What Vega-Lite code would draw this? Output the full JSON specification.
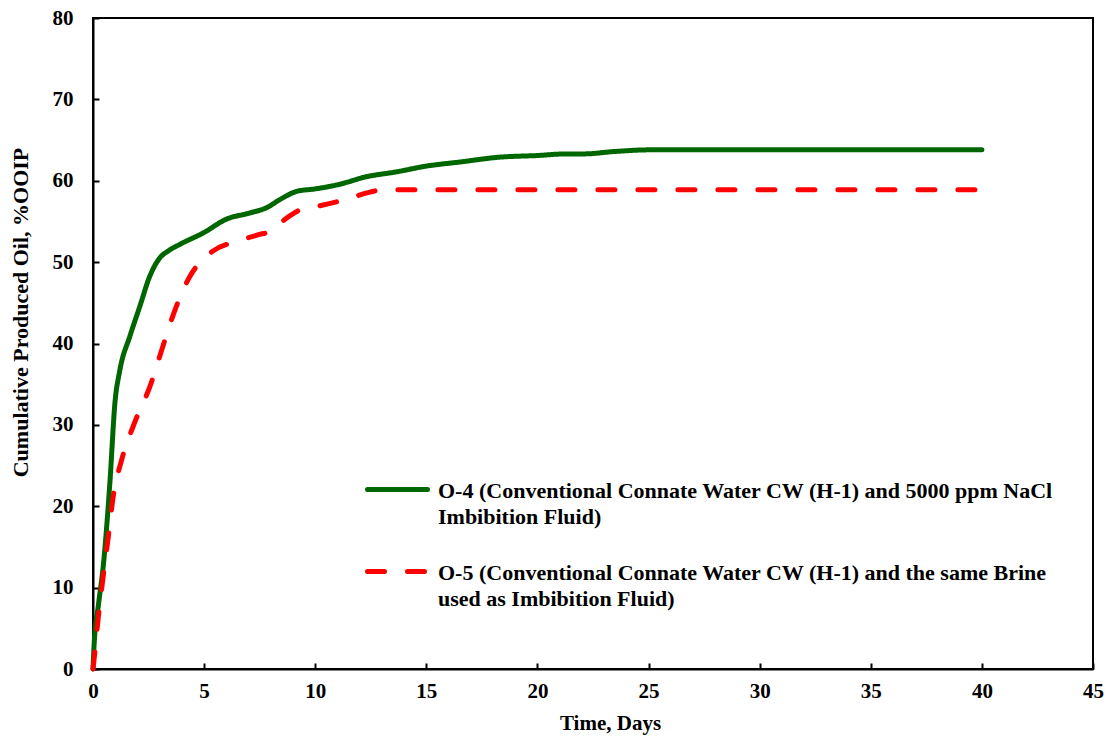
{
  "$schema": "https://vega.github.io/schema/vega-lite/v6.json",
  "width": 1000,
  "height": 651,
  "autosize": {"type": "none"},
  "padding": {"left": 93, "top": 18, "right": 14, "bottom": 67},
  "background": "white",
  "config": {
    "view": {"stroke": "black", "strokeWidth": 2},
    "font": "Liberation Serif",
    "axis": {
      "labelFont": "Liberation Serif",
      "labelFontWeight": "bold",
      "labelFontSize": 21,
      "labelColor": "black",
      "titleFont": "Liberation Serif",
      "titleFontWeight": "bold",
      "titleFontSize": 21,
      "titleColor": "black",
      "domainColor": "black",
      "domainWidth": 2,
      "tickColor": "black",
      "tickWidth": 2,
      "tickSize": -6,
      "grid": false
    }
  },
  "data": {
    "values": [
      {"series": "O-4 (Conventional Connate Water  CW (H-1) and 5000 ppm NaCl|Imbibition Fluid)", "day": 0, "value": 0},
      {"series": "O-4 (Conventional Connate Water  CW (H-1) and 5000 ppm NaCl|Imbibition Fluid)", "day": 0.05, "value": 3},
      {"series": "O-4 (Conventional Connate Water  CW (H-1) and 5000 ppm NaCl|Imbibition Fluid)", "day": 0.25, "value": 8},
      {"series": "O-4 (Conventional Connate Water  CW (H-1) and 5000 ppm NaCl|Imbibition Fluid)", "day": 0.46, "value": 12.6},
      {"series": "O-4 (Conventional Connate Water  CW (H-1) and 5000 ppm NaCl|Imbibition Fluid)", "day": 0.76, "value": 22.9},
      {"series": "O-4 (Conventional Connate Water  CW (H-1) and 5000 ppm NaCl|Imbibition Fluid)", "day": 0.99, "value": 32.8},
      {"series": "O-4 (Conventional Connate Water  CW (H-1) and 5000 ppm NaCl|Imbibition Fluid)", "day": 1.2, "value": 36.6},
      {"series": "O-4 (Conventional Connate Water  CW (H-1) and 5000 ppm NaCl|Imbibition Fluid)", "day": 1.66, "value": 40.9},
      {"series": "O-4 (Conventional Connate Water  CW (H-1) and 5000 ppm NaCl|Imbibition Fluid)", "day": 2.1, "value": 44.5},
      {"series": "O-4 (Conventional Connate Water  CW (H-1) and 5000 ppm NaCl|Imbibition Fluid)", "day": 2.56, "value": 48.3},
      {"series": "O-4 (Conventional Connate Water  CW (H-1) and 5000 ppm NaCl|Imbibition Fluid)", "day": 3.0, "value": 50.5},
      {"series": "O-4 (Conventional Connate Water  CW (H-1) and 5000 ppm NaCl|Imbibition Fluid)", "day": 3.4, "value": 51.4},
      {"series": "O-4 (Conventional Connate Water  CW (H-1) and 5000 ppm NaCl|Imbibition Fluid)", "day": 3.92, "value": 52.2},
      {"series": "O-4 (Conventional Connate Water  CW (H-1) and 5000 ppm NaCl|Imbibition Fluid)", "day": 4.97, "value": 53.6},
      {"series": "O-4 (Conventional Connate Water  CW (H-1) and 5000 ppm NaCl|Imbibition Fluid)", "day": 6.02, "value": 55.3},
      {"series": "O-4 (Conventional Connate Water  CW (H-1) and 5000 ppm NaCl|Imbibition Fluid)", "day": 7.0, "value": 56.0},
      {"series": "O-4 (Conventional Connate Water  CW (H-1) and 5000 ppm NaCl|Imbibition Fluid)", "day": 7.82, "value": 56.7},
      {"series": "O-4 (Conventional Connate Water  CW (H-1) and 5000 ppm NaCl|Imbibition Fluid)", "day": 8.42, "value": 57.7},
      {"series": "O-4 (Conventional Connate Water  CW (H-1) and 5000 ppm NaCl|Imbibition Fluid)", "day": 9.17, "value": 58.7},
      {"series": "O-4 (Conventional Connate Water  CW (H-1) and 5000 ppm NaCl|Imbibition Fluid)", "day": 10.0, "value": 59.0},
      {"series": "O-4 (Conventional Connate Water  CW (H-1) and 5000 ppm NaCl|Imbibition Fluid)", "day": 11.0, "value": 59.5},
      {"series": "O-4 (Conventional Connate Water  CW (H-1) and 5000 ppm NaCl|Imbibition Fluid)", "day": 12.32, "value": 60.5},
      {"series": "O-4 (Conventional Connate Water  CW (H-1) and 5000 ppm NaCl|Imbibition Fluid)", "day": 13.67, "value": 61.1},
      {"series": "O-4 (Conventional Connate Water  CW (H-1) and 5000 ppm NaCl|Imbibition Fluid)", "day": 15.0, "value": 61.8},
      {"series": "O-4 (Conventional Connate Water  CW (H-1) and 5000 ppm NaCl|Imbibition Fluid)", "day": 16.5, "value": 62.3},
      {"series": "O-4 (Conventional Connate Water  CW (H-1) and 5000 ppm NaCl|Imbibition Fluid)", "day": 18.3, "value": 62.9},
      {"series": "O-4 (Conventional Connate Water  CW (H-1) and 5000 ppm NaCl|Imbibition Fluid)", "day": 20.0, "value": 63.1},
      {"series": "O-4 (Conventional Connate Water  CW (H-1) and 5000 ppm NaCl|Imbibition Fluid)", "day": 21.3, "value": 63.3},
      {"series": "O-4 (Conventional Connate Water  CW (H-1) and 5000 ppm NaCl|Imbibition Fluid)", "day": 22.1, "value": 63.3},
      {"series": "O-4 (Conventional Connate Water  CW (H-1) and 5000 ppm NaCl|Imbibition Fluid)", "day": 23.5, "value": 63.6},
      {"series": "O-4 (Conventional Connate Water  CW (H-1) and 5000 ppm NaCl|Imbibition Fluid)", "day": 25.1, "value": 63.8},
      {"series": "O-4 (Conventional Connate Water  CW (H-1) and 5000 ppm NaCl|Imbibition Fluid)", "day": 30, "value": 63.8},
      {"series": "O-4 (Conventional Connate Water  CW (H-1) and 5000 ppm NaCl|Imbibition Fluid)", "day": 40, "value": 63.8},
      {"series": "O-5 (Conventional Connate Water CW (H-1) and the same Brine|used as Imbibition Fluid)", "day": 0, "value": 0},
      {"series": "O-5 (Conventional Connate Water CW (H-1) and the same Brine|used as Imbibition Fluid)", "day": 0.03, "value": 0.7},
      {"series": "O-5 (Conventional Connate Water CW (H-1) and the same Brine|used as Imbibition Fluid)", "day": 0.24, "value": 6.4},
      {"series": "O-5 (Conventional Connate Water CW (H-1) and the same Brine|used as Imbibition Fluid)", "day": 0.46, "value": 11.4},
      {"series": "O-5 (Conventional Connate Water CW (H-1) and the same Brine|used as Imbibition Fluid)", "day": 0.69, "value": 16.3},
      {"series": "O-5 (Conventional Connate Water CW (H-1) and the same Brine|used as Imbibition Fluid)", "day": 0.91, "value": 21.2},
      {"series": "O-5 (Conventional Connate Water CW (H-1) and the same Brine|used as Imbibition Fluid)", "day": 1.29, "value": 25.7},
      {"series": "O-5 (Conventional Connate Water CW (H-1) and the same Brine|used as Imbibition Fluid)", "day": 1.89, "value": 30.4},
      {"series": "O-5 (Conventional Connate Water CW (H-1) and the same Brine|used as Imbibition Fluid)", "day": 2.56, "value": 34.7},
      {"series": "O-5 (Conventional Connate Water CW (H-1) and the same Brine|used as Imbibition Fluid)", "day": 3.15, "value": 39.7},
      {"series": "O-5 (Conventional Connate Water CW (H-1) and the same Brine|used as Imbibition Fluid)", "day": 3.7, "value": 44.2},
      {"series": "O-5 (Conventional Connate Water CW (H-1) and the same Brine|used as Imbibition Fluid)", "day": 4.37, "value": 48.3},
      {"series": "O-5 (Conventional Connate Water CW (H-1) and the same Brine|used as Imbibition Fluid)", "day": 5.0, "value": 50.5},
      {"series": "O-5 (Conventional Connate Water CW (H-1) and the same Brine|used as Imbibition Fluid)", "day": 5.42, "value": 51.4},
      {"series": "O-5 (Conventional Connate Water CW (H-1) and the same Brine|used as Imbibition Fluid)", "day": 6.5, "value": 52.6},
      {"series": "O-5 (Conventional Connate Water CW (H-1) and the same Brine|used as Imbibition Fluid)", "day": 7.5, "value": 53.4},
      {"series": "O-5 (Conventional Connate Water CW (H-1) and the same Brine|used as Imbibition Fluid)", "day": 8.0, "value": 53.8},
      {"series": "O-5 (Conventional Connate Water CW (H-1) and the same Brine|used as Imbibition Fluid)", "day": 8.7, "value": 55.4},
      {"series": "O-5 (Conventional Connate Water CW (H-1) and the same Brine|used as Imbibition Fluid)", "day": 9.3, "value": 56.4},
      {"series": "O-5 (Conventional Connate Water CW (H-1) and the same Brine|used as Imbibition Fluid)", "day": 10.0, "value": 56.8},
      {"series": "O-5 (Conventional Connate Water CW (H-1) and the same Brine|used as Imbibition Fluid)", "day": 11.1, "value": 57.5},
      {"series": "O-5 (Conventional Connate Water CW (H-1) and the same Brine|used as Imbibition Fluid)", "day": 12.47, "value": 58.6},
      {"series": "O-5 (Conventional Connate Water CW (H-1) and the same Brine|used as Imbibition Fluid)", "day": 13.0, "value": 58.9},
      {"series": "O-5 (Conventional Connate Water CW (H-1) and the same Brine|used as Imbibition Fluid)", "day": 14.27, "value": 58.9},
      {"series": "O-5 (Conventional Connate Water CW (H-1) and the same Brine|used as Imbibition Fluid)", "day": 40, "value": 58.9}
    ]
  },
  "mark": {"type": "line", "interpolate": "monotone", "strokeWidth": 5, "strokeCap": "round", "strokeJoin": "round"},
  "encoding": {
    "x": {
      "field": "day", "type": "quantitative",
      "scale": {"domain": [0, 45], "nice": false, "zero": false},
      "axis": {"values": [0,5,10,15,20,25,30,35,40,45], "title": "Time, Days", "labelPadding": 17, "titlePadding": 11, "titleX": 517, "labelFlush": false}
    },
    "y": {
      "field": "value", "type": "quantitative",
      "scale": {"domain": [0, 80], "nice": false},
      "axis": {"values": [0,10,20,30,40,50,60,70,80], "title": "Cumulative Produced Oil, %OOIP", "titleFontSize": 22, "labelPadding": 26, "titleX": -73, "titleY": 294, "titleAlign": "center", "titleBaseline": "middle", "titleAngle": -90, "labelFlush": false}
    },
    "color": {
      "field": "series", "type": "nominal",
      "scale": {
        "domain": ["O-4 (Conventional Connate Water  CW (H-1) and 5000 ppm NaCl|Imbibition Fluid)", "O-5 (Conventional Connate Water CW (H-1) and the same Brine|used as Imbibition Fluid)"],
        "range": ["#006600", "#ff0000"]
      },
      "legend": {
        "title": null,
        "orient": "none",
        "legendX": 272,
        "legendY": 439,
        "padding": 0,
        "symbolType": "stroke",
        "symbolSize": 3600,
        "symbolStrokeWidth": 5,
        "labelFont": "Liberation Serif",
        "labelFontWeight": "bold",
        "labelFontSize": 22,
        "labelColor": "black",
        "labelLimit": 800,
        "labelOffset": 8,
        "labelBaseline": "alphabetic",
        "rowPadding": 11,
        "labelExpr": "split(datum.label, '|')",
        "encode": {
          "labels": {"update": {"lineHeight": {"value": 26}, "dy": {"value": 8}}},
          "symbols": {"update": {"strokeCap": {"value": "round"}}}
        }
      }
    },
    "strokeDash": {
      "field": "series", "type": "nominal",
      "scale": {
        "domain": ["O-4 (Conventional Connate Water  CW (H-1) and 5000 ppm NaCl|Imbibition Fluid)", "O-5 (Conventional Connate Water CW (H-1) and the same Brine|used as Imbibition Fluid)"],
        "range": [[1, 0], [17, 23]]
      },
      "legend": null
    }
  }
}
